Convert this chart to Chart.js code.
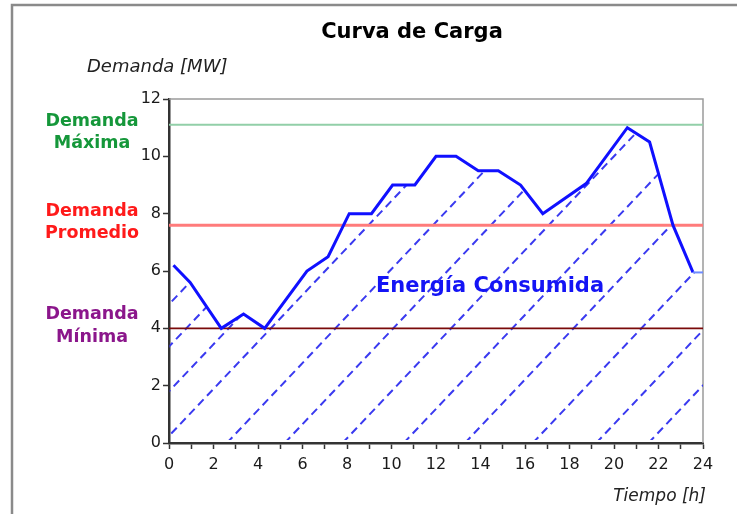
<!DOCTYPE html>
<html>
<head>
<meta charset="utf-8">
<script src="https://cdn.jsdelivr.net/npm/chart.js@4.4.1/dist/chart.umd.min.js"></script>
<style>
  html, body { margin: 0; padding: 0; background: #fff; }
  #wrap { width: 737px; height: 514px; }
</style>
</head>
<body>
<div id="wrap"><canvas id="load-chart" width="737" height="514"></canvas></div>
<script>
// load curve (hour, MW)
const hours  = [0.2, 0.95, 2.35, 3.35, 4.3, 6.2, 7.15, 8.1, 9.1, 10.05, 11.05, 12.0, 12.9, 13.9, 14.8, 15.8, 16.8, 18.75, 20.6, 21.6, 22.65, 23.55, 24];
const demand = [6.2, 5.6, 4.0, 4.5, 4.0, 6.0, 6.5, 8.0, 8.0, 9.0, 9.0, 10.0, 10.0, 9.5, 9.5, 9.0, 8.0, 9.05, 11.0, 10.5, 7.6, 5.95, 5.95];

// reference levels
const maxDemand = 11.1;
const avgDemand = 7.6;
const minDemand = 4.0;

// hatch lines: hour where each one meets the zero line
const hatchStarts = [-5.9, -4.1, -2.2, -0.3, 2.6, 5.2, 7.8, 10.55, 13.3, 16.35, 19.2, 21.55];
const hatchSlope = 0.82; // MW per hour

const curve = hours.map((h, i) => ({ x: h, y: demand[i] }));
const level = v => [{ x: 0, y: v }, { x: 24, y: v }];

const decor = {
    id: 'decor',
    beforeDatasetsDraw(chart) {
        const { ctx, chartArea: a, scales: { x, y } } = chart;
        const pts = chart.getDatasetMeta(0).data;

        // outer frame (top + left only)
        ctx.save();
        ctx.strokeStyle = '#8a8a8a';
        ctx.lineWidth = 2.5;
        ctx.beginPath();
        ctx.moveTo(12, 520);
        ctx.lineTo(12, 5);
        ctx.lineTo(740, 5);
        ctx.stroke();

        // top / right border of plot
        ctx.strokeStyle = '#9a9a9a';
        ctx.lineWidth = 1.5;
        ctx.beginPath();
        ctx.moveTo(a.left, a.top);
        ctx.lineTo(a.right, a.top);
        ctx.lineTo(a.right, a.bottom);
        ctx.stroke();
        ctx.restore();

        // hatching under the curve
        ctx.save();
        ctx.beginPath();
        ctx.moveTo(a.left, pts[0].y);
        pts.forEach(p => ctx.lineTo(p.x, p.y));
        ctx.lineTo(pts[pts.length - 1].x, a.bottom - 3);
        ctx.lineTo(a.left + 1, a.bottom - 3);
        ctx.closePath();
        ctx.clip();
        ctx.strokeStyle = '#3a3af0';
        ctx.lineWidth = 2;
        ctx.setLineDash([8, 5]);
        hatchStarts.forEach(h0 => {
            const h1 = h0 + 12 / hatchSlope;
            ctx.beginPath();
            ctx.moveTo(x.getPixelForValue(h0), y.getPixelForValue(0));
            ctx.lineTo(x.getPixelForValue(h1), y.getPixelForValue(12));
            ctx.stroke();
        });
        ctx.restore();
    },
    afterDraw(chart) {
        const { ctx } = chart;
        ctx.save();
        ctx.textBaseline = 'middle';

        ctx.fillStyle = '#000';
        ctx.textAlign = 'center';
        ctx.font = 'bold 21px "DejaVu Sans"';
        ctx.fillText('Curva de Carga', 412, 33);

        ctx.fillStyle = '#222';
        ctx.font = 'italic 18px "DejaVu Sans"';
        ctx.textAlign = 'left';
        ctx.fillText('Demanda [MW]', 87, 67);
        ctx.textAlign = 'right';
        ctx.font = 'italic 17px "DejaVu Sans"';
        ctx.fillText('Tiempo [h]', 706, 497);

        ctx.textAlign = 'center';
        ctx.font = 'bold 17.5px "DejaVu Sans"';
        ctx.fillStyle = '#15973a';
        ctx.fillText('Demanda', 92, 121);
        ctx.fillText('Máxima', 92, 143);
        ctx.fillStyle = '#ff1a1a';
        ctx.fillText('Demanda', 92, 211);
        ctx.fillText('Promedio', 92, 233);
        ctx.fillStyle = '#8b168b';
        ctx.fillText('Demanda', 92, 314);
        ctx.fillText('Mínima', 92, 337);

        ctx.fillStyle = '#1414f5';
        ctx.font = 'bold 21px "DejaVu Sans"';
        ctx.fillText('Energía Consumida', 490, 287);
        ctx.restore();
    }
};

new Chart(document.getElementById('load-chart').getContext('2d'), {
    type: 'line',
    data: {
        datasets: [
            {
                label: 'Demanda',
                data: curve,
                borderColor: '#1010ff',
                borderWidth: 3,
                pointRadius: 0,
                tension: 0,
                order: 0,
                segment: {
                    borderColor: c => c.p1DataIndex === curve.length - 1 ? '#6f8cff' : undefined,
                    borderWidth: c => c.p1DataIndex === curve.length - 1 ? 2 : undefined,
                },
            },
            { data: level(maxDemand), borderColor: '#92cfa8', borderWidth: 2, pointRadius: 0, order: 1 },
            { data: level(avgDemand), borderColor: '#ff7b7b', borderWidth: 3, pointRadius: 0, order: 1 },
            { data: level(minDemand), borderColor: '#7a0a0a', borderWidth: 1.8, pointRadius: 0, order: 1 },
        ],
    },
    options: {
        responsive: false,
        animation: false,
        events: [],
        layout: { padding: { top: 99, right: 34, bottom: 0, left: 0 } },
        plugins: { legend: { display: false }, tooltip: { enabled: false } },
        scales: {
            x: {
                type: 'linear',
                min: 0,
                max: 24,
                afterFit: s => { s.height = 71; },
                border: { color: '#333', width: 2.5 },
                grid: { drawOnChartArea: false, tickLength: 6, color: '#333', tickWidth: 1.5 },
                ticks: {
                    stepSize: 1,
                    autoSkip: false,
                    maxRotation: 0,
                    padding: 6,
                    color: '#1a1a1a',
                    font: { family: 'DejaVu Sans', size: 16 },
                    callback: v => (v % 2 === 0 ? v : ''),
                },
            },
            y: {
                min: 0,
                max: 12,
                afterFit: s => { s.width = 169; },
                border: { color: '#333', width: 2.5 },
                grid: { drawOnChartArea: false, tickLength: 6, color: '#333', tickWidth: 1.5 },
                ticks: {
                    stepSize: 2,
                    padding: 2,
                    color: '#1a1a1a',
                    font: { family: 'DejaVu Sans', size: 16 },
                },
            },
        },
    },
    plugins: [decor],
});
</script>
</body>
</html>
